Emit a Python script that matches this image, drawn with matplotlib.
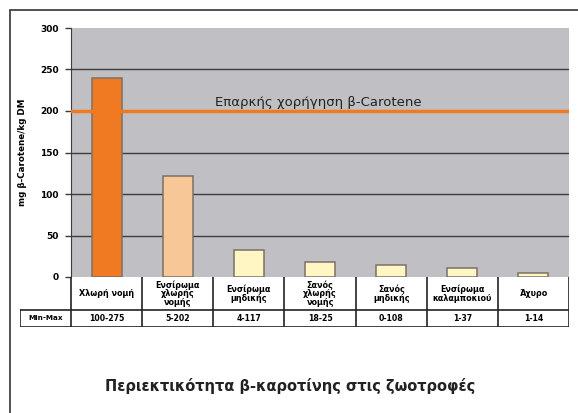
import matplotlib.pyplot as plt
from matplotlib.patches import Rectangle

plt.rcParams['font.family'] = ['DejaVu Sans']

categories = ['Χλωρή νομή', 'Ενσίρωμα\nχλωρής\nνομής', 'Ενσίρωμα\nμηδικής',
              'Σανός\nχλωρής\nνομής', 'Σανός\nμηδικής', 'Ενσίρωμα\nκαλαμποκιού', 'Άχυρο']
values = [240, 122, 32, 18, 15, 11, 5]
ranges = ['100-275', '5-202', '4-117', '18-25', '0-108', '1-37', '1-14']
colors = ['#f07a22', '#f8c797', '#fff6c4', '#fff6c4', '#fff6c4', '#fff6c4', '#fff6c4']
yticks = [0, 50, 100, 150, 200, 250, 300]
adequate = 200

W, H = 578, 413
fig = plt.figure(figsize=(W / 100, H / 100), dpi=100)

def frac(x0, y0, x1, y1):
    return [x0 / W, 1 - y1 / H, (x1 - x0) / W, (y1 - y0) / H]

# outer frame
fig.patches.append(Rectangle((10 / W, -0.1), 1.2, 1 - 10 / H + 0.1, transform=fig.transFigure,
                             fill=False, edgecolor='#333333', lw=1.2))

ax = fig.add_axes(frac(71, 28, 569, 277))
ax.set_facecolor('#c0c0c4')
x = list(range(len(values)))
ax.bar(x, values, width=0.42, color=colors, edgecolor='#7d7068', linewidth=1.1, zorder=3)
ax.axhline(adequate, color='#f07a22', lw=2.5, zorder=4)
ax.text(1.52, adequate + 3, 'Επαρκής χορήγηση β-Carotene', fontsize=9.5, color='#222222',
        va='bottom', ha='left', zorder=5)
for t in yticks[1:-1]:
    ax.axhline(t, color='#3c3c3c', lw=1.0, zorder=1)
ax.set_xlim(-0.5, 6.5)
ax.set_ylim(0, 300)
ax.set_yticks(yticks)
ax.set_yticklabels([str(t) for t in yticks], fontsize=6.5, fontweight='bold')
ax.set_xticks([])
ax.tick_params(axis='y', length=4, width=1, color='#3c3c3c', pad=5)
for s in ['top', 'right', 'bottom']:
    ax.spines[s].set_visible(False)
ax.spines['left'].set_color('#3c3c3c')
ax.set_ylabel('mg β-Carotene/kg DM', fontsize=6.3, fontweight='bold', labelpad=9)

# table under the chart
tab = fig.add_axes(frac(20, 277, 569, 327))
left = -0.5 - 51 / 71
tab.set_xlim(left, 6.5)
tab.set_ylim(0, 1)
tab.axis('off')
split = 17 / 50
lc = '#222222'
tab.plot([left, 6.5], [split, split], color=lc, lw=1.2)
tab.plot([left, 6.5], [0, 0], color=lc, lw=1.2)
tab.plot([left, left], [0, split], color=lc, lw=1.2)
for i in range(len(categories) + 1):
    tab.plot([i - 0.5, i - 0.5], [0, 1], color=lc, lw=1.2)
for i, (c, r) in enumerate(zip(categories, ranges)):
    tab.text(i, (1 + split) / 2, c, ha='center', va='center', fontsize=5.8,
             fontweight='bold', linespacing=0.95)
    tab.text(i, split / 2, r, ha='center', va='center', fontsize=5.6, fontweight='bold')
tab.text((left - 0.5) / 2, split / 2, 'Min-Max', ha='center', va='center',
         fontsize=5.2, fontweight='bold')

fig.text(290 / W, 1 - 386 / H, 'Περιεκτικότητα β-καροτίνης στις ζωοτροφές',
         ha='center', va='center', fontsize=10.5, fontweight='bold', color='#222222')

fig.savefig('out.png', dpi=100)
